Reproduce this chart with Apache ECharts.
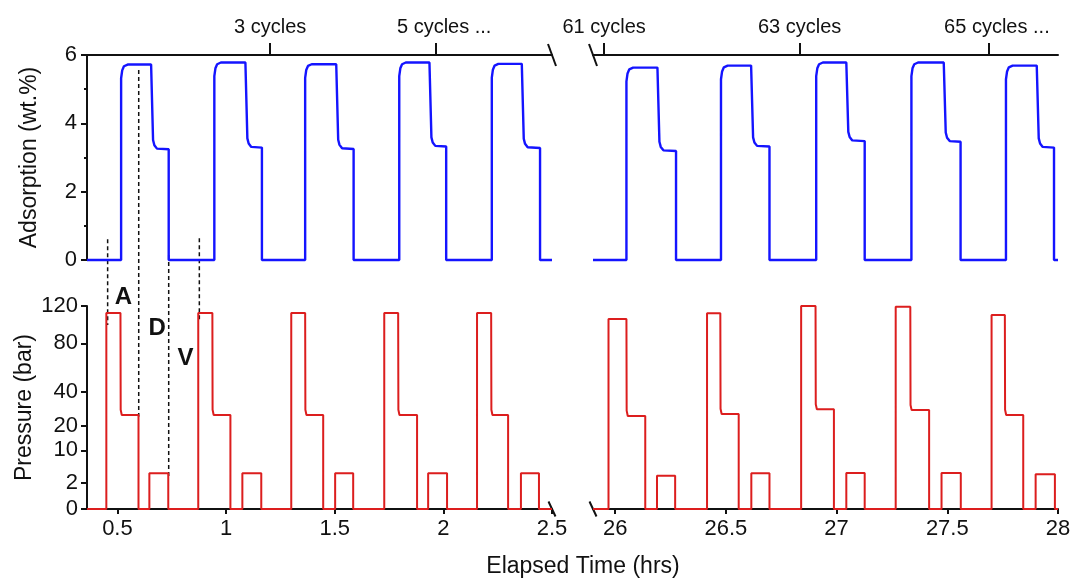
<!DOCTYPE html>
<html>
<head>
<meta charset="utf-8">
<script src="https://cdn.jsdelivr.net/npm/echarts@6/dist/echarts.min.js"></script>
<style>
  html, body { margin: 0; padding: 0; background: #fff; }
  #main { width: 1073px; height: 579px; }
</style>
</head>
<body>
<div id="main"></div>
<script>
const font = "Liberation Sans, Arial, sans-serif";

// time windows (hrs)
const leftRange = [0.36, 2.5];
const rightRange = [25.9, 28];
const leftTicks = [0.5, 1, 1.5, 2, 2.5];
const rightTicks = [26, 26.5, 27, 27.5, 28];

// cycle labels on the top axis
const cycleTicksL = [1.203, 1.967];
const cycleNamesL = ["3 cycles", "5 cycles ..."];
const cycleTicksR = [25.95, 26.833, 27.688];
const cycleNamesR = ["61 cycles", "63 cycles", "65 cycles ..."];

// pressure ticks (bar), axis is square-root scaled
const pressTicks = [0, 2, 10, 20, 40, 80, 120];

// pressure steps, left window
const pRiseL = [0.449, 0.872, 1.300, 1.728, 2.155];
const pPeakEndL = [0.514, 0.937, 1.364, 1.792, 2.220];
const pMidEndL = [0.597, 1.020, 1.447, 1.879, 2.298];
const pPulseOnL = [0.647, 1.075, 1.502, 1.930, 2.357];
const pPulseOffL = [0.734, 1.162, 1.585, 2.017, 2.440];
const pPeakL = [112, 112, 112, 112, 112];
const pMidL = [25.7, 25.7, 25.7, 25.7, 25.7];
const pPulseL = [3.7, 3.7, 3.7, 3.7, 3.7];

// pressure steps, right window
const pRiseR = [25.970, 26.415, 26.840, 27.267, 27.700];
const pPeakEndR = [26.051, 26.475, 26.905, 27.333, 27.760];
const pMidEndR = [26.136, 26.558, 26.988, 27.418, 27.843];
const pPulseOnR = [26.189, 26.615, 27.044, 27.474, 27.899];
const pPulseOffR = [26.271, 26.697, 27.127, 27.561, 27.986];
const pPeakR = [105, 111.5, 120, 119, 109.6];
const pMidR = [25.2, 26.3, 29, 28.5, 25.7];
const pPulseR = [3.2, 3.7, 3.8, 3.8, 3.5];

// adsorption, left window
const aRiseL = [0.517, 0.946, 1.364, 1.797, 2.223];
const aTopEndL = [0.655, 1.089, 1.507, 1.936, 2.361];
const aMidEndL = [0.736, 1.165, 1.587, 2.013, 2.445];
const aTopL = [5.72, 5.78, 5.73, 5.78, 5.74];
const aMidL = [3.24, 3.29, 3.25, 3.32, 3.28];

// adsorption, right window
const aRiseR = [26.051, 26.478, 26.908, 27.338, 27.765];
const aTopEndR = [26.191, 26.614, 27.044, 27.484, 27.904];
const aMidEndR = [26.275, 26.697, 27.127, 27.560, 27.982];
const aTopR = [5.63, 5.69, 5.78, 5.78, 5.69];
const aMidR = [3.19, 3.32, 3.48, 3.46, 3.29];

// rounded corners: [dt hrs, offset wt.%]
const riseCorner = [[0, -0.4], [0.005, -0.17], [0.013, -0.05], [0.03, 0]];
const dropCorner = [[0.009, 0.27], [0.015, 0.12], [0.027, 0.02]];

// A / D / V markers
const dashT = [0.455, 0.598, 0.736, 0.877];
const dashTopAds = [0.61, 5.56, 0.15, 0.64];
const dashBotP = [98.6, 24.8, 3.0, 102];
const stepNames = ["A", "D", "V"];
const stepT = [0.528, 0.683, 0.813];
const stepP = [131, 95, 66];

function adsLine(range, rise, topEnd, midEnd, top, mid) {
  const pts = [[range[0], 0]];
  rise.forEach((r, i) => {
    pts.push([r, 0]);
    riseCorner.forEach((c) => pts.push([r + c[0], top[i] + c[1]]));
    pts.push([topEnd[i], top[i]]);
    dropCorner.forEach((c) => pts.push([topEnd[i] + c[0], mid[i] + c[1]]));
    pts.push([midEnd[i], mid[i]], [midEnd[i], 0]);
  });
  pts.push([range[1], 0]);
  return pts;
}

function presLine(range, rise, peakEnd, midEnd, on, off, peak, mid, pulse) {
  const pts = [[range[0], 0]];
  rise.forEach((r, i) => {
    pts.push(
      [r, 0], [r, peak[i]], [peakEnd[i], peak[i]],
      [peakEnd[i] + 0.001, mid[i] + 3], [peakEnd[i] + 0.006, mid[i]],
      [midEnd[i], mid[i]], [midEnd[i], 0],
      [on[i], 0], [on[i], pulse[i]], [off[i], pulse[i]], [off[i], 0]
    );
  });
  pts.push([range[1], 0]);
  return pts.map((p) => [p[0], Math.sqrt(p[1])]);
}

function cycleLabel(ticks, names) {
  return (v) => {
    const i = ticks.findIndex((t) => Math.abs(t - v) < 1e-6);
    if (i < 0) return "";
    // keep the "N cycles" part centred on the tick
    return names[i].endsWith("...") ? "{p| }" + names[i] : names[i];
  };
}

const black = "#111";
const axisLine = { show: true, onZero: false, lineStyle: { color: black, width: 2 } };

function topAxis(grid, range, ticks, names) {
  return {
    type: "value", gridIndex: grid, position: "top",
    min: range[0], max: range[1],
    axisLine: axisLine,
    axisTick: { show: true, customValues: ticks, length: 12, lineStyle: { color: black, width: 2 } },
    axisLabel: {
      customValues: ticks, formatter: cycleLabel(ticks, names), margin: 18,
      color: black, fontSize: 20, fontFamily: font,
      rich: { p: { width: 16 } },
    },
    splitLine: { show: false },
  };
}

function bottomAxis(grid, range, ticks) {
  return {
    type: "value", gridIndex: grid, position: "bottom",
    min: range[0], max: range[1],
    axisLine: axisLine,
    axisTick: { show: true, customValues: ticks, length: 5, lineStyle: { color: black, width: 2 } },
    axisLabel: { customValues: ticks, margin: 9, color: black, fontSize: 22, fontFamily: font },
    splitLine: { show: false },
  };
}

const sqrtTicks = pressTicks.map((p) => Math.sqrt(p));
const pMax = Math.sqrt(120);

const option = {
  animation: false,
  backgroundColor: "#fff",
  grid: [
    { left: 87, top: 55, width: 465, height: 205, outerBoundsMode: "none" },
    { left: 593, top: 55, width: 465, height: 205, outerBoundsMode: "none" },
    { left: 87, top: 306, width: 465, height: 203, outerBoundsMode: "none" },
    { left: 593, top: 306, width: 465, height: 203, outerBoundsMode: "none" },
  ],
  xAxis: [
    topAxis(0, leftRange, cycleTicksL, cycleNamesL),
    topAxis(1, rightRange, cycleTicksR, cycleNamesR),
    bottomAxis(2, leftRange, leftTicks),
    bottomAxis(3, rightRange, rightTicks),
  ],
  yAxis: [
    {
      type: "value", gridIndex: 0, min: 0, max: 6, interval: 2,
      name: "Adsorption (wt.%)", nameLocation: "middle", nameGap: 46,
      nameTextStyle: { color: black, fontSize: 23, fontFamily: font },
      axisLine: axisLine,
      axisTick: { show: true, length: 6, lineStyle: { color: black, width: 2 } },
      minorTick: { show: true, splitNumber: 2, length: 3, lineStyle: { color: black, width: 2 } },
      axisLabel: { margin: 10, color: black, fontSize: 22, fontFamily: font },
      splitLine: { show: false },
    },
    { type: "value", gridIndex: 1, min: 0, max: 6, show: false },
    {
      type: "value", gridIndex: 2, min: 0, max: pMax,
      name: "Pressure (bar)", nameLocation: "middle", nameGap: 51,
      nameTextStyle: { color: black, fontSize: 23, fontFamily: font },
      axisLine: axisLine,
      axisTick: { show: true, customValues: sqrtTicks, length: 6, lineStyle: { color: black, width: 2 } },
      axisLabel: {
        customValues: sqrtTicks, margin: 9, color: black, fontSize: 22, fontFamily: font,
        formatter: (v) => String(Math.round(v * v)),
      },
      splitLine: { show: false },
    },
    { type: "value", gridIndex: 3, min: 0, max: pMax, show: false },
  ],
  series: [
    {
      type: "line", xAxisIndex: 0, yAxisIndex: 0, symbol: "none", clip: false,
      lineStyle: { color: "#1414ff", width: 2.4 },
      data: adsLine(leftRange, aRiseL, aTopEndL, aMidEndL, aTopL, aMidL),
    },
    {
      type: "line", xAxisIndex: 1, yAxisIndex: 1, symbol: "none", clip: false,
      lineStyle: { color: "#1414ff", width: 2.4 },
      data: adsLine(rightRange, aRiseR, aTopEndR, aMidEndR, aTopR, aMidR),
    },
    {
      type: "line", xAxisIndex: 2, yAxisIndex: 2, symbol: "none", clip: false,
      lineStyle: { color: "#dc1e1e", width: 2 },
      data: presLine(leftRange, pRiseL, pPeakEndL, pMidEndL, pPulseOnL, pPulseOffL, pPeakL, pMidL, pPulseL),
    },
    {
      type: "line", xAxisIndex: 3, yAxisIndex: 3, symbol: "none", clip: false,
      lineStyle: { color: "#dc1e1e", width: 2 },
      data: presLine(rightRange, pRiseR, pPeakEndR, pMidEndR, pPulseOnR, pPulseOffR, pPeakR, pMidR, pPulseR),
    },
  ],
};

const chart = echarts.init(document.getElementById("main"));
chart.setOption(option);

// overlays placed through the axes' own scales
const toPx = (g, pt) => chart.convertToPixel({ gridIndex: g }, pt);
const graphic = [];

dashT.forEach((t, i) => {
  const a = toPx(0, [t, dashTopAds[i]]);
  const b = toPx(2, [t, Math.sqrt(dashBotP[i])]);
  graphic.push({
    type: "line", silent: true,
    shape: { x1: a[0], y1: a[1], x2: b[0], y2: b[1] },
    style: { stroke: "#111", lineWidth: 1.5, lineDash: [4, 3] },
  });
});

stepNames.forEach((s, i) => {
  const p = toPx(2, [stepT[i], Math.sqrt(stepP[i])]);
  graphic.push({
    type: "text", silent: true, x: p[0], y: p[1],
    style: { text: s, font: "bold 24px " + font, fill: black, textAlign: "center", textVerticalAlign: "middle" },
  });
});

// axis break marks
const breaks = [
  [toPx(0, [leftRange[1], 6]), 4, 11],
  [toPx(1, [rightRange[0], 6]), 4, 11],
  [toPx(2, [leftRange[1], 0]), 3.5, 7.5],
  [toPx(3, [rightRange[0], 0]), 3.5, 7.5],
];
breaks.forEach(([c, dx, dy]) => {
  graphic.push({
    type: "line", silent: true,
    shape: { x1: c[0] - dx, y1: c[1] - dy, x2: c[0] + dx, y2: c[1] + dy },
    style: { stroke: black, lineWidth: 2 },
  });
});

graphic.push({
  type: "text", silent: true, x: 583, y: 567,
  style: { text: "Elapsed Time (hrs)", font: "23px " + font, fill: black, textAlign: "center", textVerticalAlign: "middle" },
});

chart.setOption({ graphic: graphic });
</script>
</body>
</html>
